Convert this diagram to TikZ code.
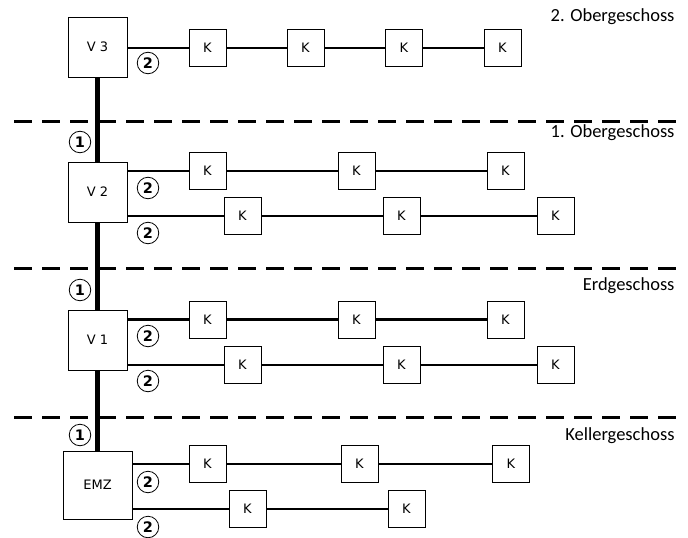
\documentclass[tikz,border=0pt]{standalone}
\usepackage{fontspec}
\setmainfont{Carlito}
\newfontfamily\boxfont{DejaVu Sans}
\begin{document}
\begin{tikzpicture}[x=1pt,y=-1pt,
  vbox/.style={draw,line width=1pt,fill=white,minimum width=59pt,minimum height=60pt,inner sep=0pt,font=\boxfont\fontsize{13}{15}\selectfont},
  kbox/.style={draw,line width=1pt,fill=white,minimum size=37pt,inner sep=0pt,font=\boxfont\fontsize{13}{15}\selectfont},
  num/.style={draw,circle,line width=0.8pt,minimum size=21.5pt,inner sep=0pt,font=\boxfont\bfseries\fontsize{14.5}{16}\selectfont},
  wire/.style={line width=2.3pt},
  riser/.style={line width=5pt},
  floor/.style={line width=3pt,dash pattern=on 18pt off 10pt},
  flabel/.style={anchor=base east,font=\fontsize{18.5}{22}\selectfont}]
\useasboundingbox (0,0) rectangle (688,538);
% floor separators
\coordinate (d1a) at (14,121); \coordinate (d1b) at (680,121);
\coordinate (d2a) at (14,268); \coordinate (d2b) at (680,268);
\coordinate (d3a) at (14,417); \coordinate (d3b) at (680,417);
\draw[floor] (d1a) -- (d1b);
\draw[floor] (d2a) -- (d2b);
\draw[floor] (d3a) -- (d3b);
% distribution boxes
\node[vbox] (V3) at (97.5,47) {V 3};
\node[vbox] (V2) at (97.5,192) {V 2};
\node[vbox] (V1) at (97.5,340) {V 1};
\node[vbox,minimum width=69pt,minimum height=68pt] (EMZ) at (97.5,485) {EMZ};
% riser
\draw[riser] (V3.south) -- (V2.north);
\draw[riser] (V2.south) -- (V1.north);
\draw[riser] (V1.south) -- (EMZ.north);
% top floor
\node[kbox] (k31) at (207.5,48) {K};
\node[kbox] (k32) at (305.5,48) {K};
\node[kbox] (k33) at (404,48) {K};
\node[kbox] (k34) at (502.5,48) {K};
\draw[wire] (V3.east |- k31.west) -- (k31.west);
\draw[wire] (k31.east) -- (k32.west);
\draw[wire] (k32.east) -- (k33.west);
\draw[wire] (k33.east) -- (k34.west);
% 1. OG
\node[kbox] (k21) at (207.5,171) {K};
\node[kbox] (k22) at (356.5,171) {K};
\node[kbox] (k23) at (505.5,171) {K};
\node[kbox] (k24) at (242.5,216) {K};
\node[kbox] (k25) at (401.5,216) {K};
\node[kbox] (k26) at (555.5,216) {K};
\draw[wire] (V2.east |- k21.west) -- (k21.west);
\draw[wire] (k21.east) -- (k22.west);
\draw[wire] (k22.east) -- (k23.west);
\draw[wire] (V2.east |- k24.west) -- (k24.west);
\draw[wire] (k24.east) -- (k25.west);
\draw[wire] (k25.east) -- (k26.west);
% EG
\node[kbox] (k11) at (207.5,319.5) {K};
\node[kbox] (k12) at (356.5,319.5) {K};
\node[kbox] (k13) at (505.5,319.5) {K};
\node[kbox] (k14) at (242.5,365) {K};
\node[kbox] (k15) at (401.5,365) {K};
\node[kbox] (k16) at (555.5,365) {K};
\draw[wire] (V1.east |- k11.west) -- (k11.west);
\draw[wire] (k11.east) -- (k12.west);
\draw[wire] (k12.east) -- (k13.west);
\draw[wire] (V1.east |- k14.west) -- (k14.west);
\draw[wire] (k14.east) -- (k15.west);
\draw[wire] (k15.east) -- (k16.west);
% KG
\node[kbox] (k01) at (207.5,464) {K};
\node[kbox] (k02) at (359.5,464) {K};
\node[kbox] (k03) at (511,464) {K};
\node[kbox] (k04) at (247.5,509) {K};
\node[kbox] (k05) at (406.5,509) {K};
\draw[wire] (EMZ.east |- k01.west) -- (k01.west);
\draw[wire] (k01.east) -- (k02.west);
\draw[wire] (k02.east) -- (k03.west);
\draw[wire] (EMZ.east |- k04.west) -- (k04.west);
\draw[wire] (k04.east) -- (k05.west);
% circled numbers
\node[num] (n3a) at (148,63) {2};
\node[num] (n2r) at (80,142) {1};
\node[num] (n2a) at (148,188) {2};
\node[num] (n2b) at (148,233) {2};
\node[num] (n1r) at (80,290) {1};
\node[num] (n1a) at (148,336) {2};
\node[num] (n1b) at (148,381) {2};
\node[num] (n0r) at (80,435) {1};
\node[num] (n0a) at (148,482) {2};
\node[num] (n0b) at (148,527) {2};
% floor labels
\node[flabel] (f3) at (678,21) {2. Obergeschoss};
\node[flabel] (f2) at (678,137) {1. Obergeschoss};
\node[flabel] (f1) at (678,290) {Erdgeschoss};
\node[flabel] (f0) at (678,440) {Kellergeschoss};
\end{tikzpicture}
\end{document}
